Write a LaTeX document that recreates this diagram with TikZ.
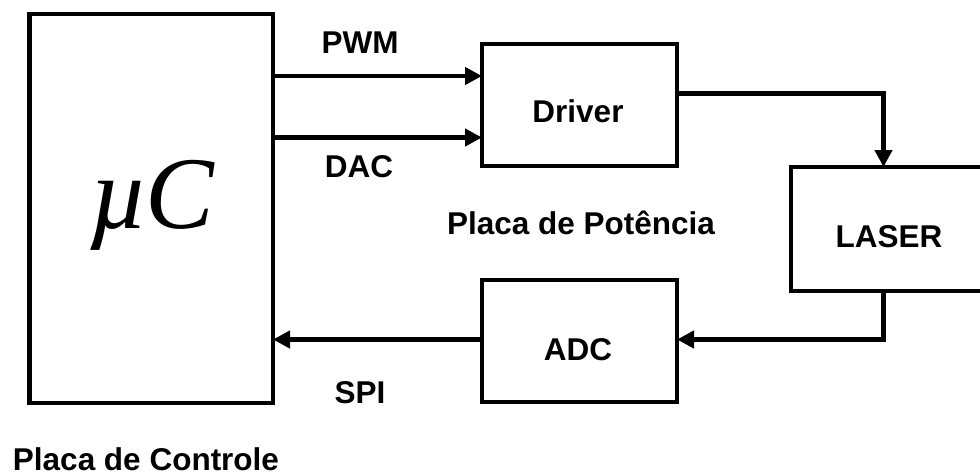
\documentclass[tikz,border=0pt]{standalone}
\usepackage{fontspec}
\setmainfont{Liberation Sans}
\newfontfamily\muserif{Liberation Serif}
\usetikzlibrary{arrows.meta}
\begin{document}
\begin{tikzpicture}[x=1pt,y=-1pt,
  blk/.style={draw, line width=4.5pt, rectangle, inner sep=0pt, outer sep=0pt},
  lbl/.style={font=\bfseries\fontsize{31.5}{31.5}\selectfont, anchor=base, inner sep=0pt},
  wire/.style={line width=4.5pt},
  arr/.style={wire, -{Triangle[length=17pt,width=17pt]}}]
\useasboundingbox (0,0) rectangle (980,475);
\clip (0,0) rectangle (980,475);
% blocks
\node[blk, minimum width=243.5pt, minimum height=389pt] (uc) at (151.25,208.5) {};
\node[blk, minimum width=195pt, minimum height=122pt] (driver) at (579.5,105) {};
\node[blk, minimum width=219pt, minimum height=124pt] (laser) at (900.5,229) {};
\node[blk, minimum width=195pt, minimum height=122pt] (adc) at (579.5,341) {};
% texts
\node[anchor=base, inner sep=0pt, font=\muserif\itshape\fontsize{103}{103}\selectfont] (uctext) at (152,228) {µ\kern-4pt C};
\node[lbl] (tdriver) at (578,122) {Driver};
\node[lbl] (tadc) at (578,360) {ADC};
\node[lbl] (tlaser) at (889,247) {LASER};
\node[lbl] (tpwm) at (360,53) {PWM};
\node[lbl] (tdac) at (359,177) {DAC};
\node[lbl] (tspi) at (360,403) {SPI};
\node[lbl] (tpot) at (581,234) {Placa de Potência};
\node[lbl] (tctl) at (146,470) {Placa de Controle};
% helper coordinates
\coordinate (ypwm) at (0,76);
\coordinate (ydac) at (0,137.5);
\coordinate (ydrv) at (0,93.5);
\coordinate (xlas) at (883.5,0);
\coordinate (yfb) at (0,339.5);
% connectors
\draw[arr] (uc.east |- ypwm) -- (driver.west |- ypwm);
\draw[arr] (uc.east |- ydac) -- (driver.west |- ydac);
\draw[arr] (driver.east |- ydrv) -| (xlas |- laser.north);
\draw[arr] (xlas |- laser.south) |- (adc.east |- yfb);
\draw[arr] (adc.west |- yfb) -- (uc.east |- yfb);
\end{tikzpicture}
\end{document}
